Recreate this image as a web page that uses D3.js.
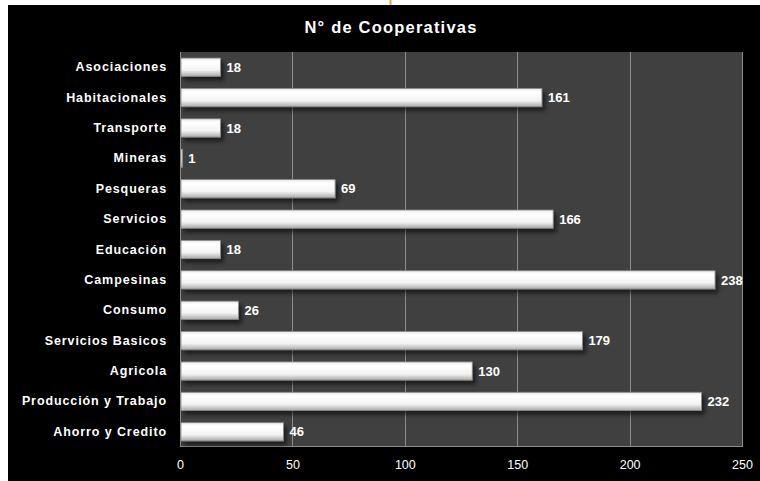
<!DOCTYPE html>
<html>
<head>
<meta charset="utf-8">
<script src="https://cdn.jsdelivr.net/npm/d3@7"></script>
<style>
  body { margin: 0; background: #fff; }
  svg { display: block; }
</style>
</head>
<body>
<div id="chart"></div>
<script>
'use strict';

/******************** chart data *************************/

var categories = ["Asociaciones", "Habitacionales", "Transporte", "Mineras", "Pesqueras",
  "Servicios", "Educación", "Campesinas", "Consumo", "Servicios Basicos", "Agricola",
  "Producción y Trabajo", "Ahorro y Credito"];
var cooperativas = [18, 161, 18, 1, 69, 166, 18, 238, 26, 179, 130, 232, 46];
var xTicks = [0, 50, 100, 150, 200, 250];
var titleText = "N° de Cooperativas";

/******************** dimensions *************************/

var width = 760, height = 481;
var plot = { left: 180, right: 742, top: 52, bottom: 447 };
var font = "'Liberation Sans', Arial, sans-serif";

var svg = d3.select("#chart").append("svg")
  .attr("width", width).attr("height", height);

var defs = svg.append("defs");

var barGradient = defs.append("linearGradient")
  .attr("id", "barGradient")
  .attr("x1", 0).attr("y1", 0).attr("x2", 0).attr("y2", 1);
barGradient.append("stop").attr("offset", "0%").attr("stop-color", "#e6e6e6");
barGradient.append("stop").attr("offset", "18%").attr("stop-color", "#ffffff");
barGradient.append("stop").attr("offset", "65%").attr("stop-color", "#f4f4f4");
barGradient.append("stop").attr("offset", "100%").attr("stop-color", "#ababab");

var shadow = defs.append("filter").attr("id", "barShadow")
  .attr("x", "-10%").attr("y", "-30%").attr("width", "130%").attr("height", "190%");
shadow.append("feGaussianBlur").attr("in", "SourceAlpha").attr("stdDeviation", 2).attr("result", "blur");
shadow.append("feOffset").attr("in", "blur").attr("dx", 3).attr("dy", 4).attr("result", "off");
shadow.append("feComponentTransfer").attr("result", "shade")
  .append("feFuncA").attr("type", "linear").attr("slope", 0.55);
var merge = shadow.append("feMerge");
merge.append("feMergeNode").attr("in", "shade");
merge.append("feMergeNode").attr("in", "SourceGraphic");

/******************** background *************************/

svg.append("rect")
  .attr("x", 8).attr("y", 5).attr("width", width - 8).attr("height", height - 5)
  .attr("fill", "#000");

svg.append("line")
  .attr("x1", 390.5).attr("x2", 390.5).attr("y1", 0).attr("y2", 5)
  .attr("stroke", "#f0a030").attr("stroke-width", 2);

svg.append("text")
  .attr("x", 391).attr("y", 33)
  .attr("text-anchor", "middle")
  .attr("fill", "#fff")
  .style("font-family", font)
  .style("font-weight", "bold")
  .style("font-size", "16.5px")
  .style("letter-spacing", "1.2px")
  .text(titleText);

/******************** scales *************************/

var x = d3.scaleLinear().domain([0, 250]).range([plot.left, plot.right]);
var y = d3.scaleBand().domain(categories).range([plot.top, plot.bottom]).paddingInner(0.4).paddingOuter(0.2);

svg.append("rect")
  .attr("x", plot.left).attr("y", plot.top)
  .attr("width", plot.right - plot.left).attr("height", plot.bottom - plot.top)
  .attr("fill", "#404040");

svg.append("g").attr("class", "grid")
  .selectAll("line").data(xTicks).enter().append("line")
  .attr("x1", function(d) { return Math.round(x(d)) + 0.5; })
  .attr("x2", function(d) { return Math.round(x(d)) + 0.5; })
  .attr("y1", plot.top).attr("y2", plot.bottom)
  .attr("stroke", "#8c8c8c").attr("stroke-width", 1);

svg.append("line")
  .attr("x1", plot.left).attr("x2", plot.right)
  .attr("y1", plot.bottom - 0.5).attr("y2", plot.bottom - 0.5)
  .attr("stroke", "#8c8c8c");

/******************** x axis *************************/

var xAxis = svg.append("g")
  .attr("transform", "translate(0," + plot.bottom + ")")
  .call(d3.axisBottom(x).tickValues(xTicks).tickSize(0).tickPadding(13));
xAxis.select(".domain").remove();
xAxis.selectAll("text")
  .attr("fill", "#fff")
  .style("font-family", font)
  .style("font-size", "12.5px");

/******************** y axis *************************/

var yAxis = svg.append("g")
  .attr("transform", "translate(" + plot.left + ",0)")
  .call(d3.axisLeft(y).tickSize(0).tickPadding(13));
yAxis.select(".domain").remove();
yAxis.selectAll("text")
  .attr("fill", "#fff")
  .style("font-family", font)
  .style("font-weight", "bold")
  .style("font-size", "12.5px")
  .style("letter-spacing", "0.9px");

/******************** bars *************************/

var bars = svg.append("g").attr("class", "bars");

bars.selectAll("rect").data(categories).enter().append("rect")
  .attr("x", x(0) + 1)
  .attr("y", function(d) { return y(d); })
  .attr("width", function(d, i) { return Math.max(x(cooperativas[i]) - x(0) - 1, 1.5); })
  .attr("height", y.bandwidth())
  .attr("fill", "url(#barGradient)")
  .attr("stroke", "#8a8a8a")
  .attr("stroke-width", 0.8)
  .attr("filter", "url(#barShadow)");

bars.selectAll("text").data(categories).enter().append("text")
  .attr("x", function(d, i) { return x(cooperativas[i]) + 6; })
  .attr("y", function(d) { return y(d) + y.bandwidth() / 2; })
  .attr("dy", "0.36em")
  .attr("fill", "#fff")
  .style("font-family", font)
  .style("font-weight", "bold")
  .style("font-size", "13px")
  .text(function(d, i) { return cooperativas[i]; });
</script>
</body>
</html>
